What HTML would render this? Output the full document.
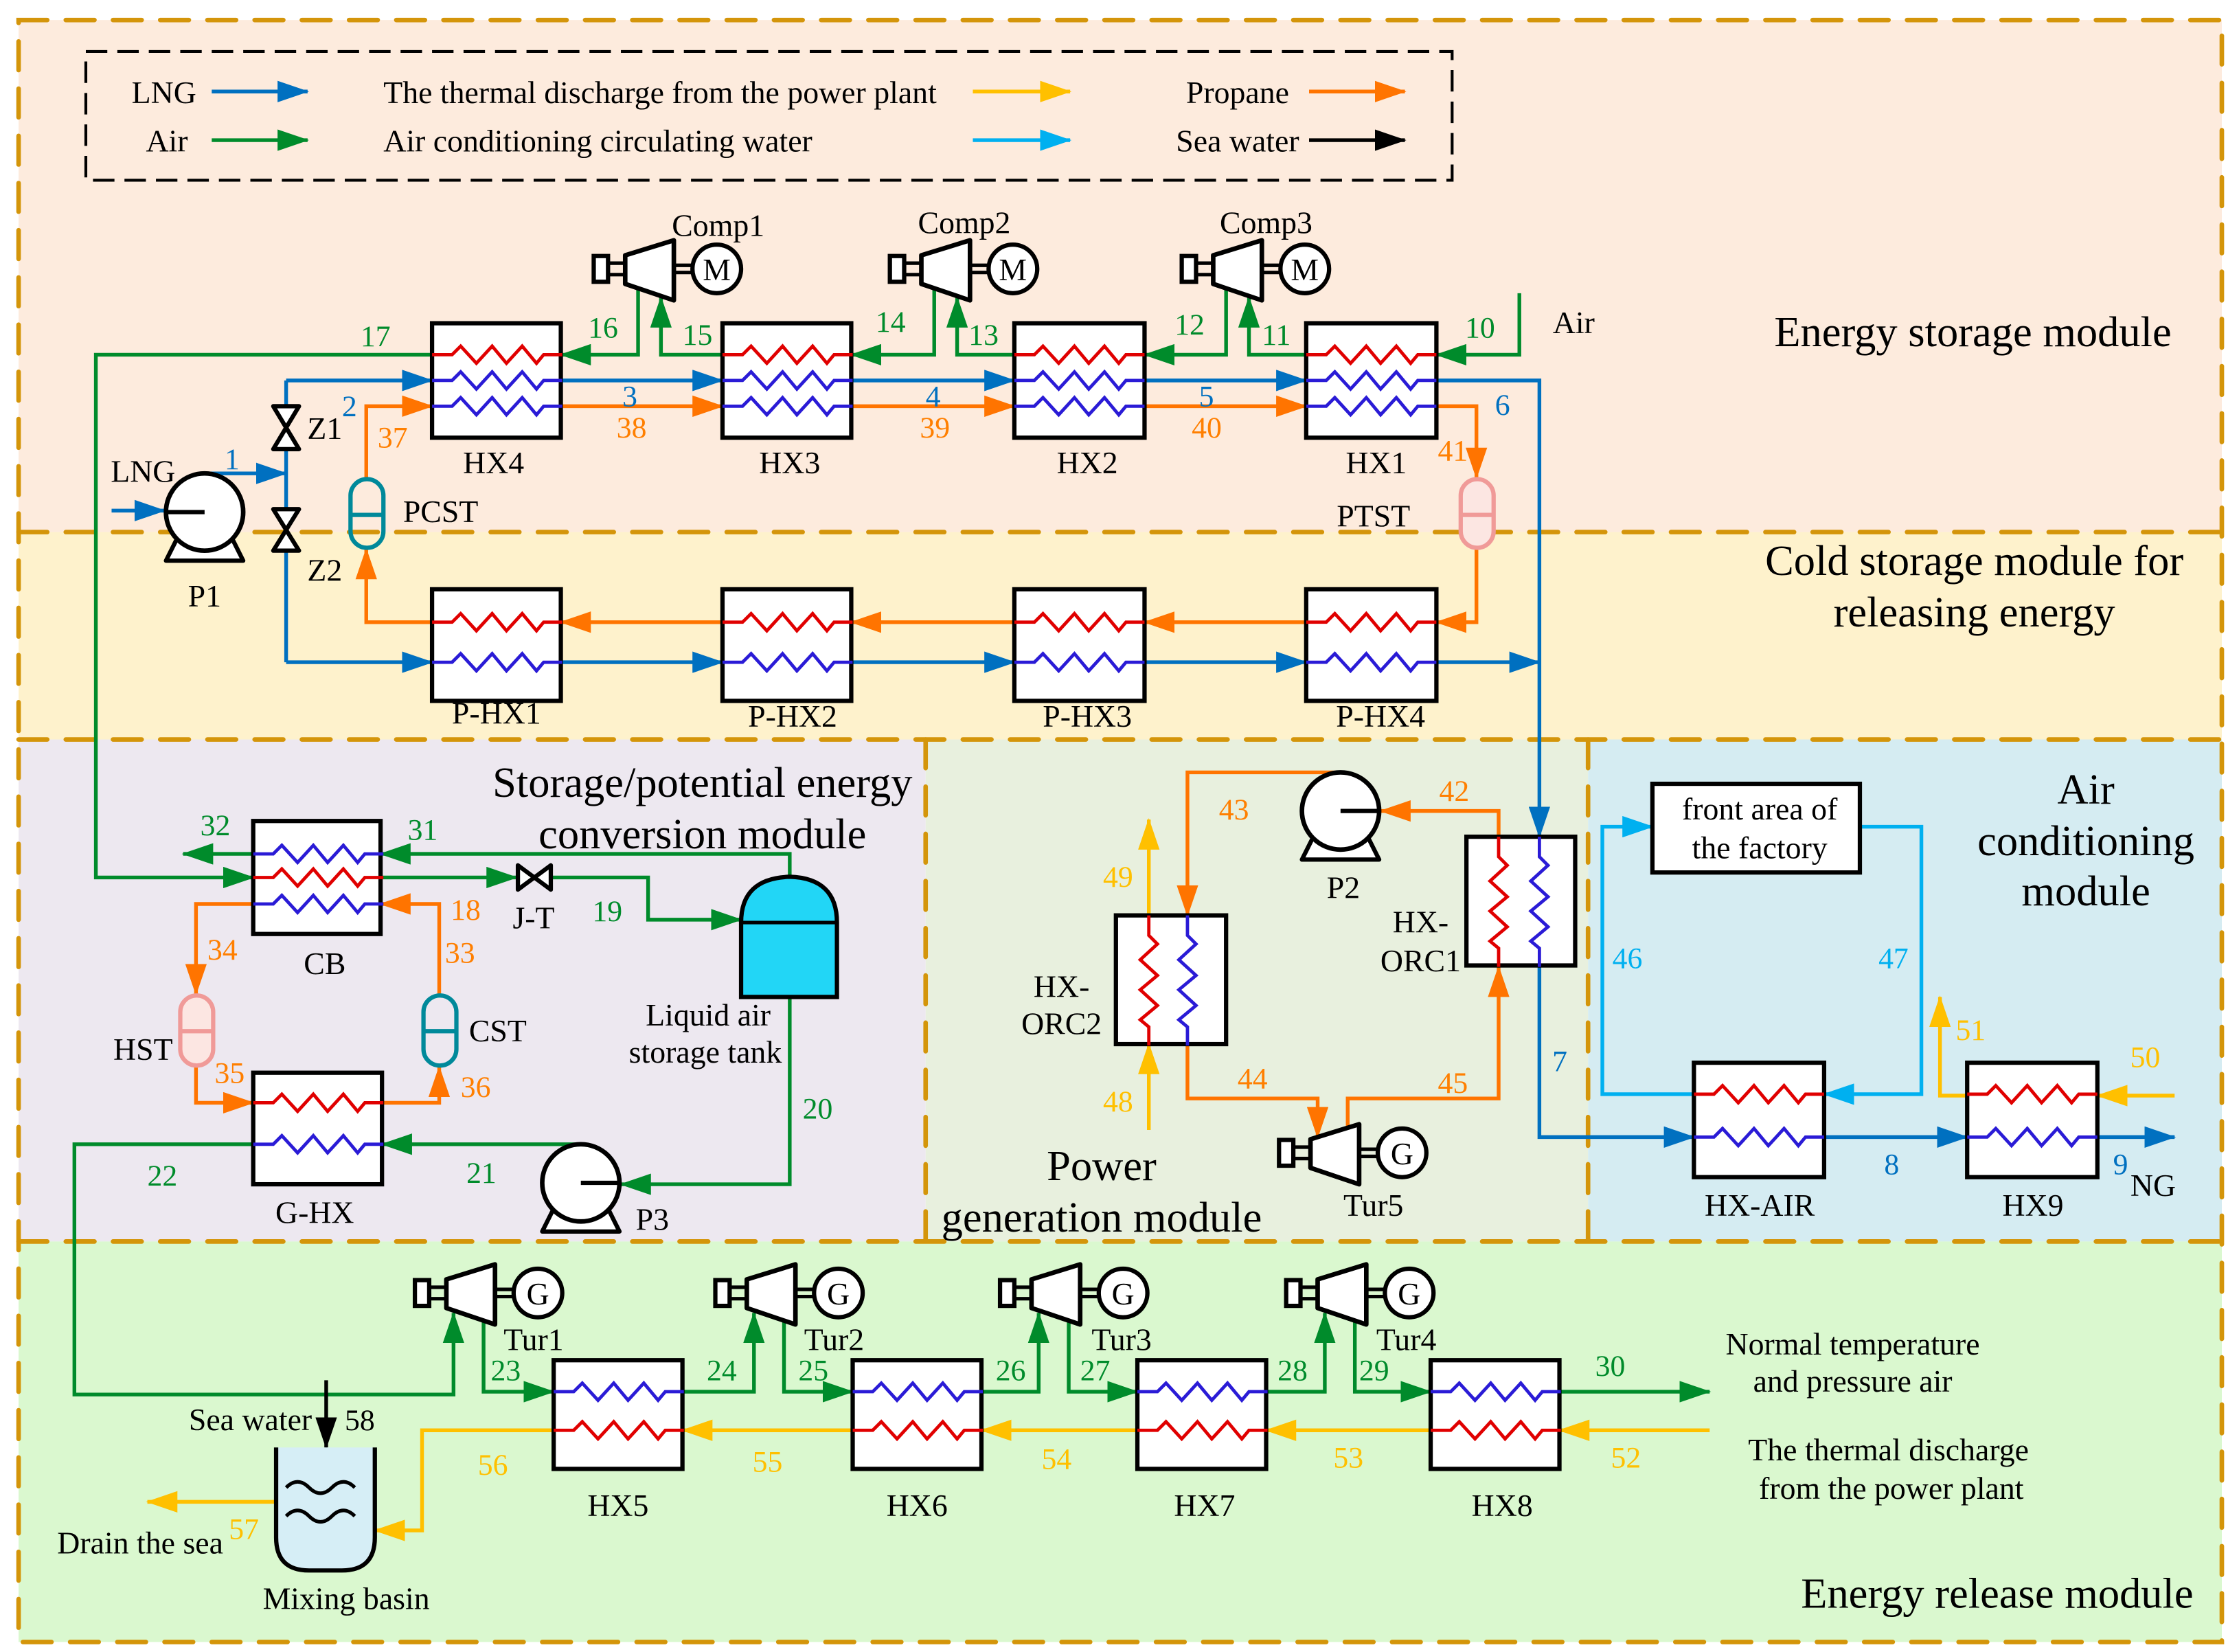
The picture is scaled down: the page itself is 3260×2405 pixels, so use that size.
<!DOCTYPE html>
<html><head><meta charset="utf-8"><style>
html,body{margin:0;padding:0;background:#fff;}
svg{display:block;}
text{font-family:"Liberation Serif",serif;}
</style></head><body>
<svg width="3260" height="2405" viewBox="0 0 1565 1155" preserveAspectRatio="none" xmlns="http://www.w3.org/2000/svg">
<defs>
<marker id="mG" markerUnits="userSpaceOnUse" markerWidth="22" markerHeight="15" refX="21" refY="7.5" orient="auto"><path d="M0,0 L22,7.5 L0,15 z" fill="#008B2B"/></marker>
<marker id="mB" markerUnits="userSpaceOnUse" markerWidth="22" markerHeight="15" refX="21" refY="7.5" orient="auto"><path d="M0,0 L22,7.5 L0,15 z" fill="#0070C0"/></marker>
<marker id="mO" markerUnits="userSpaceOnUse" markerWidth="22" markerHeight="15" refX="21" refY="7.5" orient="auto"><path d="M0,0 L22,7.5 L0,15 z" fill="#FF7400"/></marker>
<marker id="mY" markerUnits="userSpaceOnUse" markerWidth="22" markerHeight="15" refX="21" refY="7.5" orient="auto"><path d="M0,0 L22,7.5 L0,15 z" fill="#FFC000"/></marker>
<marker id="mC" markerUnits="userSpaceOnUse" markerWidth="22" markerHeight="15" refX="21" refY="7.5" orient="auto"><path d="M0,0 L22,7.5 L0,15 z" fill="#00B0F0"/></marker>
<marker id="mK" markerUnits="userSpaceOnUse" markerWidth="22" markerHeight="15" refX="21" refY="7.5" orient="auto"><path d="M0,0 L22,7.5 L0,15 z" fill="#000"/></marker>
<path id="zz" d="M0,0 h14 l6,-6 l11,12 l11,-12 l10,12 l11,-12 l10,12 l5,-6 h13" fill="none"/>
<g id="comp">
 <rect x="-86" y="-9" width="10" height="18" fill="#fff" stroke="#000" stroke-width="3"/>
 <line x1="-76" y1="-4" x2="-64" y2="-4" stroke="#000" stroke-width="2.5"/>
 <line x1="-76" y1="4" x2="-64" y2="4" stroke="#000" stroke-width="2.5"/>
 <path d="M-64,-9.5 L-30,-20 L-30,22 L-64,10.5 z" fill="#fff" stroke="#000" stroke-width="3.2" stroke-linejoin="round"/>
 <line x1="-30" y1="-2.5" x2="-17" y2="-2.5" stroke="#000" stroke-width="2.5"/>
 <line x1="-30" y1="2.5" x2="-17" y2="2.5" stroke="#000" stroke-width="2.5"/>
 <circle cx="0" cy="0" r="17" fill="#fff" stroke="#000" stroke-width="3"/>
</g>
<g id="pump">
 <path d="M-19,18 L-27,34 L27,34 L19,18" fill="#fff" stroke="#000" stroke-width="3" stroke-linejoin="round"/>
 <circle cx="0" cy="0" r="27" fill="#fff" stroke="#000" stroke-width="3.2"/>
</g>
</defs>

<rect x="0" y="0" width="1565" height="1155" fill="#fff"/>
<rect x="13" y="14" width="1540" height="358" fill="#FDEBDD"/>
<rect x="13" y="372" width="1540" height="145" fill="#FEF2CC"/>
<rect x="13" y="517" width="634" height="351" fill="#EDE8F0"/>
<rect x="647" y="517" width="463" height="351" fill="#E8F0DE"/>
<rect x="1110" y="517" width="443" height="351" fill="#D5ECF2"/>
<rect x="13" y="868" width="1540" height="280" fill="#DAF8CF"/>
<g stroke="#D4950A" stroke-width="3.2" fill="none" stroke-dasharray="20 13" stroke-linecap="round">
 <rect x="13" y="14" width="1540" height="1134"/>
 <line x1="13" y1="372" x2="1553" y2="372"/>
 <line x1="13" y1="517" x2="1553" y2="517"/>
 <line x1="13" y1="868" x2="1553" y2="868"/>
 <line x1="647" y1="517" x2="647" y2="868"/>
 <line x1="1110" y1="517" x2="1110" y2="868"/>
</g>

<rect x="60" y="36" width="955" height="90" fill="none" stroke="#000" stroke-width="2" stroke-dasharray="15 7"/>
<g font-size="22" fill="#000">
 <text x="92" y="72">LNG</text>
 <text x="102" y="106">Air</text>
 <text x="268" y="72">The thermal discharge from the power plant</text>
 <text x="268" y="106">Air conditioning circulating water</text>
 <text x="829" y="72">Propane</text>
 <text x="822" y="106">Sea water</text>
</g>
<g stroke-width="2.6" fill="none">
 <line x1="148" y1="64" x2="215" y2="64" stroke="#0070C0" marker-end="url(#mB)"/>
 <line x1="148" y1="98" x2="215" y2="98" stroke="#008B2B" marker-end="url(#mG)"/>
 <line x1="680" y1="64" x2="748" y2="64" stroke="#FFC000" marker-end="url(#mY)"/>
 <line x1="680" y1="98" x2="748" y2="98" stroke="#00B0F0" marker-end="url(#mC)"/>
 <line x1="915" y1="64" x2="982" y2="64" stroke="#FF7400" marker-end="url(#mO)"/>
 <line x1="915" y1="98" x2="982" y2="98" stroke="#000" marker-end="url(#mK)"/>
</g>

<g stroke-width="2.6" fill="none" stroke-linejoin="miter">
<g stroke="#008B2B">
 <polyline points="1062,205 1062,248 1004,248" marker-end="url(#mG)"/>
 <polyline points="913,248 873,248 873,208" marker-end="url(#mG)"/>
 <polyline points="857,202 857,248 800,248" marker-end="url(#mG)"/>
 <polyline points="709,248 669,248 669,208" marker-end="url(#mG)"/>
 <polyline points="653,202 653,248 595,248" marker-end="url(#mG)"/>
 <polyline points="505,248 462,248 462,208" marker-end="url(#mG)"/>
 <polyline points="446,202 446,248 392,248" marker-end="url(#mG)"/>
 <polyline points="302,248 67,248 67,613.5 177,613.5" marker-end="url(#mG)"/>
 <polyline points="266,613.5 361,613.5" marker-end="url(#mG)"/>
 <polyline points="386,613.5 453,613.5 453,643 518,643" marker-end="url(#mG)"/>
 <polyline points="552,614 552,597 266,597" marker-end="url(#mG)"/>
 <polyline points="177,597 128,597" marker-end="url(#mG)"/>
 <polyline points="552,697 552,828 434,828" marker-end="url(#mG)"/>
 <polyline points="406,800 267,800" marker-end="url(#mG)"/>
 <polyline points="177,800 52,800 52,975 317,975 317,918" marker-end="url(#mG)"/>
 <polyline points="338,924 338,973 387,973" marker-end="url(#mG)"/>
 <polyline points="477,973 527,973 527,918" marker-end="url(#mG)"/>
 <polyline points="548,924 548,973 596,973" marker-end="url(#mG)"/>
 <polyline points="686,973 726,973 726,918" marker-end="url(#mG)"/>
 <polyline points="747,924 747,973 795,973" marker-end="url(#mG)"/>
 <polyline points="885,973 926,973 926,918" marker-end="url(#mG)"/>
 <polyline points="947,924 947,973 1000,973" marker-end="url(#mG)"/>
 <polyline points="1090,973 1195,973" marker-end="url(#mG)"/>
</g>
<g stroke="#FFC000">
 <polyline points="1195,1000 1090,1000" marker-end="url(#mY)"/>
 <polyline points="1000,1000 885,1000" marker-end="url(#mY)"/>
 <polyline points="795,1000 686,1000" marker-end="url(#mY)"/>
 <polyline points="596,1000 477,1000" marker-end="url(#mY)"/>
 <polyline points="387,1000 295,1000 295,1070 262,1070" marker-end="url(#mY)"/>
 <polyline points="193,1050 103,1050" marker-end="url(#mY)"/>
 <polyline points="803,790 803,730" marker-end="url(#mY)"/>
 <polyline points="803,640 803,573" marker-end="url(#mY)"/>
 <polyline points="1520,766 1466,766" marker-end="url(#mY)"/>
 <polyline points="1375,766 1356,766 1356,697" marker-end="url(#mY)"/>
</g>
<g stroke="#0070C0">
 <polyline points="78,357 115,357" marker-end="url(#mB)"/>
 <polyline points="143,331 200,331" marker-end="url(#mB)"/>
 <polyline points="200,266 200,463"/>
 <polyline points="200,266 302,266" marker-end="url(#mB)"/>
 <polyline points="392,266 505,266" marker-end="url(#mB)"/>
 <polyline points="595,266 709,266" marker-end="url(#mB)"/>
 <polyline points="800,266 913,266" marker-end="url(#mB)"/>
 <polyline points="1004,266 1076,266 1076,585" marker-end="url(#mB)"/>
 <polyline points="200,463 302,463" marker-end="url(#mB)"/>
 <polyline points="392,463 505,463" marker-end="url(#mB)"/>
 <polyline points="595,463 709,463" marker-end="url(#mB)"/>
 <polyline points="800,463 913,463" marker-end="url(#mB)"/>
 <polyline points="1004,463 1076,463" marker-end="url(#mB)"/>
 <polyline points="1076,675 1076,795 1184,795" marker-end="url(#mB)"/>
 <polyline points="1275,795 1375,795" marker-end="url(#mB)"/>
 <polyline points="1466,795 1520,795" marker-end="url(#mB)"/>
</g>
<g stroke="#FF7400">
 <polyline points="256,334 256,284 302,284" marker-end="url(#mO)"/>
 <polyline points="392,284 505,284" marker-end="url(#mO)"/>
 <polyline points="595,284 709,284" marker-end="url(#mO)"/>
 <polyline points="800,284 913,284" marker-end="url(#mO)"/>
 <polyline points="1004,284 1032,284 1032,334" marker-end="url(#mO)"/>
 <polyline points="1032,383 1032,435 1004,435" marker-end="url(#mO)"/>
 <polyline points="913,435 800,435" marker-end="url(#mO)"/>
 <polyline points="709,435 595,435" marker-end="url(#mO)"/>
 <polyline points="505,435 392,435" marker-end="url(#mO)"/>
 <polyline points="302,435 256,435 256,384" marker-end="url(#mO)"/>
 <polyline points="1047.5,585 1047.5,567 965,567" marker-end="url(#mO)"/>
 <polyline points="937,540 830,540 830,640" marker-end="url(#mO)"/>
 <polyline points="830,730 830,768 921,768 921,795" marker-end="url(#mO)"/>
 <polyline points="942,788 942,768 1047.5,768 1047.5,676" marker-end="url(#mO)"/>
 <polyline points="307,695 307,632 266,632" marker-end="url(#mO)"/>
 <polyline points="177,632 137,632 137,695" marker-end="url(#mO)"/>
 <polyline points="137,745 137,771 177,771" marker-end="url(#mO)"/>
 <polyline points="267,771 307,771 307,746" marker-end="url(#mO)"/>
</g>
<g stroke="#00B0F0">
 <polyline points="1184,765 1120,765 1120,578 1155,578" marker-end="url(#mC)"/>
 <polyline points="1300,578 1343,578 1343,765 1275,765" marker-end="url(#mC)"/>
</g>
<line x1="228" y1="965" x2="228" y2="1012" stroke="#000" marker-end="url(#mK)"/>
</g>

<g fill="#fff" stroke="#000" stroke-width="3">
 <rect x="302" y="226" width="90" height="80"/><rect x="505" y="226" width="90" height="80"/>
 <rect x="709" y="226" width="91" height="80"/><rect x="913" y="226" width="91" height="80"/>
 <rect x="302" y="412" width="90" height="78"/><rect x="505" y="412" width="90" height="78"/>
 <rect x="709" y="412" width="91" height="78"/><rect x="913" y="412" width="91" height="78"/>
 <rect x="177" y="574" width="89" height="79"/>
 <rect x="177" y="750" width="90" height="78"/>
 <rect x="1025" y="585" width="76" height="90"/>
 <rect x="780" y="640" width="77" height="90"/>
 <rect x="1184" y="743" width="91" height="80"/><rect x="1375" y="743" width="91" height="80"/>
 <rect x="387" y="951" width="90" height="76"/><rect x="596" y="951" width="90" height="76"/>
 <rect x="795" y="951" width="90" height="76"/><rect x="1000" y="951" width="90" height="76"/>
 <rect x="1155" y="548" width="145" height="62"/>
</g>
<g stroke-width="2.3" fill="none">
 <g stroke="#E00000">
  <use href="#zz" x="302" y="248"/><use href="#zz" x="505" y="248"/><use href="#zz" x="709" y="248"/><use href="#zz" x="913" y="248"/>
  <use href="#zz" x="302" y="435"/><use href="#zz" x="505" y="435"/><use href="#zz" x="709" y="435"/><use href="#zz" x="913" y="435"/>
  <use href="#zz" x="177" y="613.5"/><use href="#zz" x="177" y="771"/>
  <use href="#zz" x="1184" y="765"/><use href="#zz" x="1375" y="765"/>
  <use href="#zz" x="387" y="1000"/><use href="#zz" x="596" y="1000"/><use href="#zz" x="795" y="1000"/><use href="#zz" x="1000" y="1000"/>
  <use href="#zz" transform="translate(1047.5,585) rotate(90)"/>
  <use href="#zz" transform="translate(803,640) rotate(90)"/>
 </g>
 <g stroke="#2A1BD6">
  <use href="#zz" x="302" y="266"/><use href="#zz" x="505" y="266"/><use href="#zz" x="709" y="266"/><use href="#zz" x="913" y="266"/>
  <use href="#zz" x="302" y="284"/><use href="#zz" x="505" y="284"/><use href="#zz" x="709" y="284"/><use href="#zz" x="913" y="284"/>
  <use href="#zz" x="302" y="463"/><use href="#zz" x="505" y="463"/><use href="#zz" x="709" y="463"/><use href="#zz" x="913" y="463"/>
  <use href="#zz" x="177" y="597"/><use href="#zz" x="177" y="632"/><use href="#zz" x="177" y="800"/>
  <use href="#zz" x="1184" y="795"/><use href="#zz" x="1375" y="795"/>
  <use href="#zz" x="387" y="973"/><use href="#zz" x="596" y="973"/><use href="#zz" x="795" y="973"/><use href="#zz" x="1000" y="973"/>
  <use href="#zz" transform="translate(1076,585) rotate(90)"/>
  <use href="#zz" transform="translate(830,640) rotate(90)"/>
 </g>
</g>

<use href="#comp" x="501" y="188"/><use href="#comp" x="708" y="188"/><use href="#comp" x="912" y="188"/>
<use href="#comp" x="376" y="904"/><use href="#comp" x="586" y="904"/><use href="#comp" x="785" y="904"/><use href="#comp" x="985" y="904"/>
<use href="#comp" x="980" y="806"/>
<g font-size="22" text-anchor="middle">
 <text x="501" y="196">M</text><text x="708" y="196">M</text><text x="912" y="196">M</text>
 <text x="376" y="912">G</text><text x="586" y="912">G</text><text x="785" y="912">G</text><text x="985" y="912">G</text>
 <text x="980" y="814">G</text>
</g>

<use href="#pump" x="143" y="358"/>
<line x1="116" y1="358" x2="143" y2="358" stroke="#000" stroke-width="3"/>
<use href="#pump" x="937" y="567"/>
<line x1="937" y1="567" x2="964" y2="567" stroke="#000" stroke-width="3"/>
<use href="#pump" x="406" y="827"/>
<line x1="406" y1="827" x2="433" y2="827" stroke="#000" stroke-width="3"/>

<g fill="#fff" stroke="#000" stroke-width="3" stroke-linejoin="round">
 <path d="M191,284 L209,284 L191,314 L209,314 z"/>
 <path d="M191,356 L209,356 L191,385 L209,385 z"/>
 <path d="M362,605 L362,622 L385,605 L385,622 z"/>
</g>

<rect x="245" y="335" width="23" height="48" rx="11.5" fill="none" stroke="#00899A" stroke-width="3"/>
<line x1="245" y1="360" x2="268" y2="360" stroke="#00899A" stroke-width="3"/>
<rect x="296" y="696" width="23" height="49" rx="11.5" fill="none" stroke="#00899A" stroke-width="3"/>
<line x1="296" y1="721" x2="319" y2="721" stroke="#00899A" stroke-width="3"/>
<rect x="1021" y="335" width="23" height="48" rx="11.5" fill="#FCE6E2" stroke="#F09A98" stroke-width="3"/>
<line x1="1021" y1="360" x2="1044" y2="360" stroke="#F09A98" stroke-width="3"/>
<rect x="126" y="696" width="23" height="49" rx="11.5" fill="#FCE6E2" stroke="#F09A98" stroke-width="3"/>
<line x1="126" y1="721" x2="149" y2="721" stroke="#F09A98" stroke-width="3"/>

<path d="M518,697 L518,645 Q518,614 552,613 Q585,614 585,645 L585,697 z" fill="#22D6F6" stroke="#000" stroke-width="3"/>
<line x1="518" y1="645" x2="585" y2="645" stroke="#000" stroke-width="2.5"/>

<path d="M193,1012 L193,1075 Q193,1098 216,1098 L239,1098 Q262,1098 262,1075 L262,1012" fill="#D6EEF6" stroke="#000" stroke-width="3"/>
<path d="M200,1040 q8,-8 16,0 t16,0 t16,0 M200,1060 q8,-8 16,0 t16,0 t16,0" fill="none" stroke="#000" stroke-width="2.5"/>

<g font-size="22" fill="#000" text-anchor="middle">
 <text x="502" y="165">Comp1</text><text x="674" y="163">Comp2</text><text x="885" y="163">Comp3</text>
 <text x="1100" y="233">Air</text>
 <text x="345" y="331">HX4</text><text x="552" y="331">HX3</text><text x="760" y="331">HX2</text><text x="962" y="331">HX1</text>
 <text x="100" y="337">LNG</text>
 <text x="227" y="307">Z1</text><text x="227" y="406">Z2</text>
 <text x="143" y="424">P1</text>
 <text x="308" y="365">PCST</text><text x="960" y="368">PTST</text>
 <text x="347" y="506">P-HX1</text><text x="554" y="508">P-HX2</text><text x="760" y="508">P-HX3</text><text x="965" y="508">P-HX4</text>
 <text x="227" y="681">CB</text><text x="373" y="649">J-T</text>
 <text x="495" y="717">Liquid air</text><text x="493" y="743">storage tank</text>
 <text x="100" y="741">HST</text><text x="348" y="728">CST</text>
 <text x="220" y="855">G-HX</text><text x="456" y="860">P3</text>
 <text x="939" y="628">P2</text>
 <text x="993" y="652">HX-</text><text x="993" y="679">ORC1</text>
 <text x="742" y="697">HX-</text><text x="742" y="723">ORC2</text>
 <text x="960" y="850">Tur5</text>
 <text x="1230" y="850">HX-AIR</text><text x="1421" y="850">HX9</text>
 <text x="1505" y="836">NG</text>
 <text x="1230" y="573">front area of</text><text x="1230" y="600">the factory</text>
 <text x="373" y="944">Tur1</text><text x="583" y="944">Tur2</text><text x="784" y="944">Tur3</text><text x="983" y="944">Tur4</text>
 <text x="432" y="1060">HX5</text><text x="641" y="1060">HX6</text><text x="842" y="1060">HX7</text><text x="1050" y="1060">HX8</text>
 <text x="175" y="1000">Sea water</text>
 <text x="98" y="1086">Drain the sea</text>
 <text x="242" y="1125">Mixing basin</text>
 <text x="1295" y="947">Normal temperature</text><text x="1295" y="973">and pressure air</text>
 <text x="1320" y="1021">The thermal discharge</text><text x="1322" y="1048">from the power plant</text>
</g>
<g font-size="30" fill="#000" text-anchor="middle">
 <text x="1379" y="242">Energy storage module</text>
 <text x="1380" y="402">Cold storage module for</text><text x="1380" y="438">releasing energy</text>
 <text x="491" y="557">Storage/potential energy</text><text x="491" y="593">conversion module</text>
 <text x="1458" y="562">Air</text><text x="1458" y="598">conditioning</text><text x="1458" y="633">module</text>
 <text x="770" y="825">Power</text><text x="770" y="861">generation module</text>
 <text x="1396" y="1124">Energy release module</text>
</g>

<g font-size="21">
 <g fill="#008B2B">
  <text x="1024" y="236">10</text><text x="882" y="241">11</text><text x="821" y="234">12</text><text x="677" y="241">13</text>
  <text x="612" y="232">14</text><text x="477" y="241">15</text><text x="411" y="236">16</text><text x="252" y="242">17</text>
  <text x="414" y="644">19</text><text x="561" y="782">20</text><text x="326" y="827">21</text><text x="103" y="829">22</text>
  <text x="343" y="965">23</text><text x="494" y="965">24</text><text x="558" y="965">25</text><text x="696" y="965">26</text>
  <text x="755" y="965">27</text><text x="893" y="965">28</text><text x="950" y="965">29</text><text x="1115" y="962">30</text>
  <text x="285" y="587">31</text><text x="140" y="584">32</text>
 </g>
 <g fill="#0070C0">
  <text x="157" y="328">1</text><text x="239" y="291">2</text><text x="435" y="284">3</text><text x="647" y="284">4</text>
  <text x="838" y="284">5</text><text x="1045" y="290">6</text><text x="1085" y="749">7</text><text x="1317" y="821">8</text><text x="1477" y="821">9</text>
 </g>
 <g fill="#FF7F00">
  <text x="315" y="643">18</text><text x="311" y="673">33</text><text x="145" y="671">34</text><text x="150" y="757">35</text>
  <text x="322" y="767">36</text><text x="264" y="313">37</text><text x="431" y="306">38</text><text x="643" y="306">39</text>
  <text x="833" y="306">40</text><text x="1005" y="322">41</text><text x="1006" y="560">42</text><text x="852" y="573">43</text>
  <text x="865" y="761">44</text><text x="1005" y="764">45</text>
 </g>
 <g fill="#00B0F0">
  <text x="1127" y="677">46</text><text x="1313" y="677">47</text>
 </g>
 <g fill="#FFC000">
  <text x="771" y="777">48</text><text x="771" y="620">49</text><text x="1489" y="746">50</text><text x="1367" y="727">51</text>
  <text x="1126" y="1026">52</text><text x="932" y="1026">53</text><text x="728" y="1027">54</text><text x="526" y="1029">55</text>
  <text x="334" y="1031">56</text><text x="160" y="1076">57</text>
 </g>
 <text x="241" y="1000" fill="#000">58</text>
</g>
</svg>
</body></html>
